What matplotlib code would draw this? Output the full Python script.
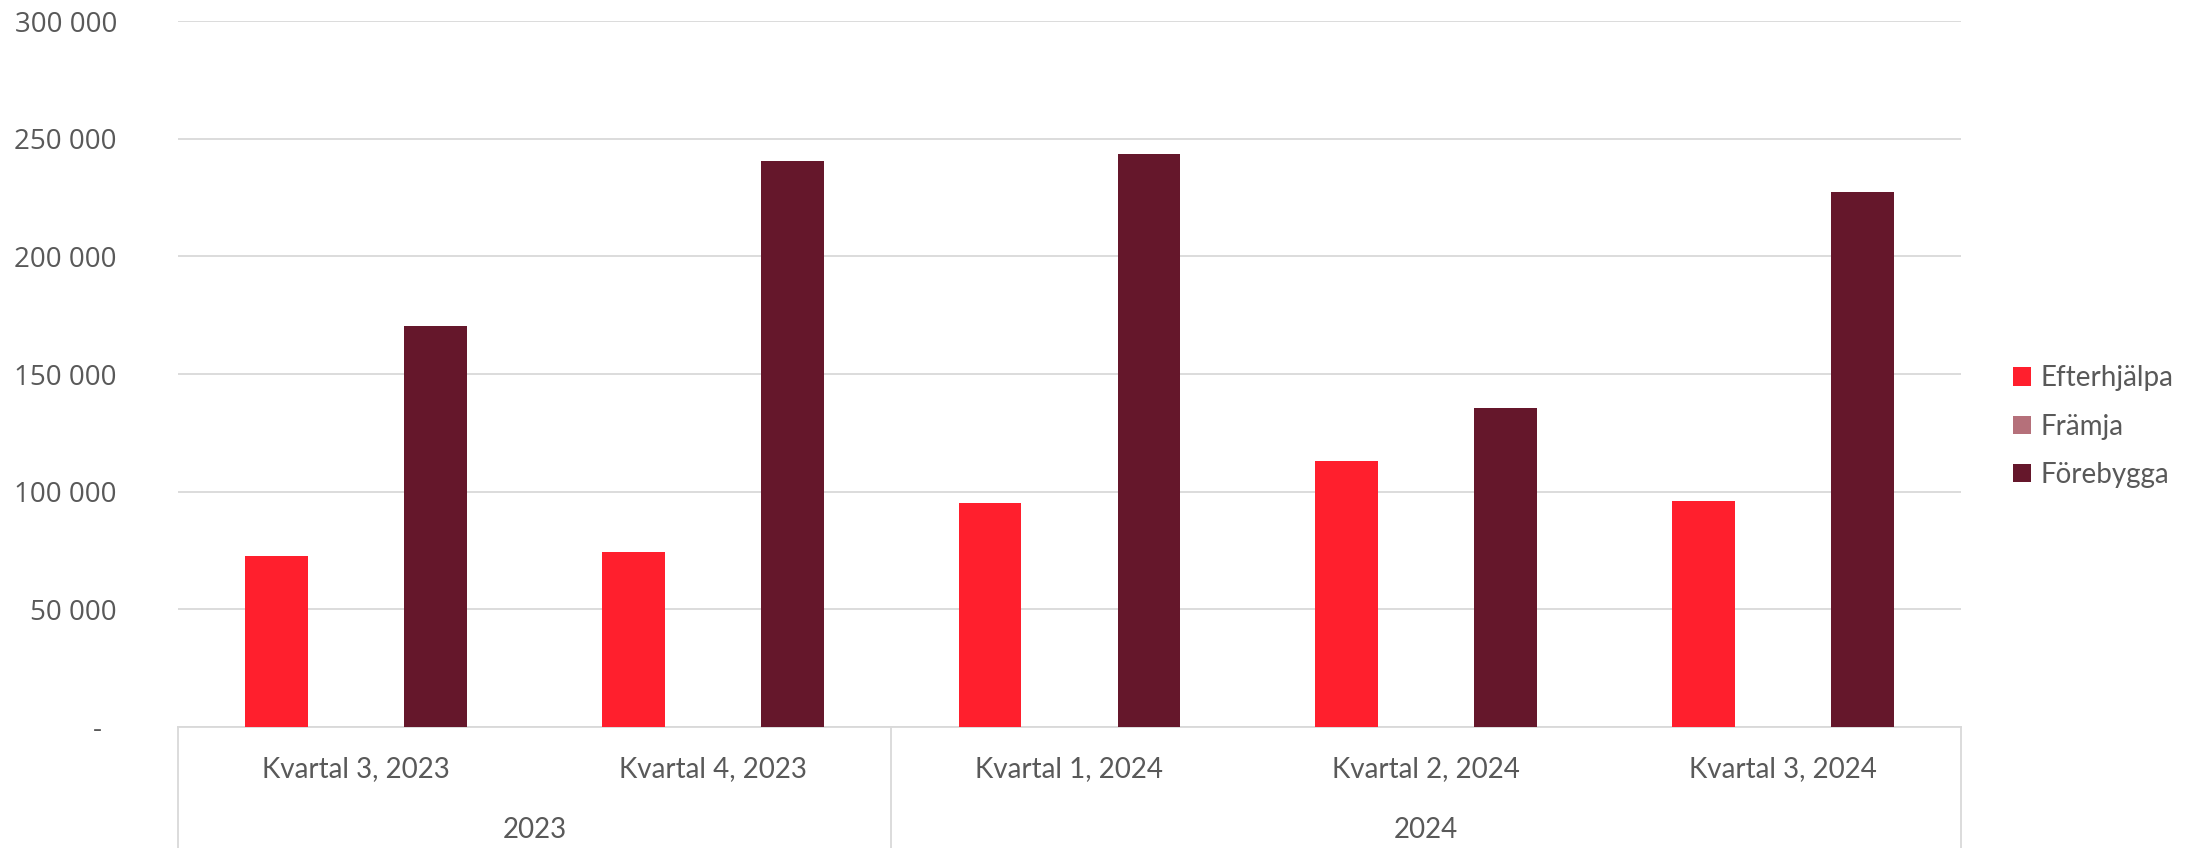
import numpy as np
import matplotlib.pyplot as plt
import matplotlib.transforms as mtransforms
from matplotlib.patches import Patch

# Data
quarters = ["Kvartal 3, 2023", "Kvartal 4, 2023", "Kvartal 1, 2024", "Kvartal 2, 2024", "Kvartal 3, 2024"]
years = ["2023", "2024"]
year_spans = [(0, 1), (2, 4)]
series_names = ["Efterhjälpa", "Främja", "Förebygga"]
efterhjalpa = [72500, 74300, 95000, 112900, 96200]
framja = [0, 0, 0, 0, 0]
forebygga = [170500, 240600, 243500, 135400, 227500]
y_ticks = [0, 50000, 100000, 150000, 200000, 250000, 300000]

colors = ["#FF1F2D", "#B5707A", "#65172B"]
text_color = "#595959"
grid_color = "#D9D9D9"

fig = plt.figure(figsize=(21.92, 8.48), dpi=100)
ax = fig.add_axes([0.0812, 0.1427, 0.8134, 0.8325])

x = np.arange(len(quarters))
step = 0.223
width = 0.176
for i, (vals, col) in enumerate(zip([efterhjalpa, framja, forebygga], colors)):
    ax.bar(x + (i - 1) * step, vals, width=width, color=col, edgecolor="none", zorder=3)

ax.set_xlim(-0.5, len(quarters) - 0.5)
ax.set_ylim(0, 300000)
ax.set_yticks(y_ticks)
ax.set_yticklabels(["-  "] + [f"{v:,}".replace(",", " ") for v in y_ticks[1:]])
for t in ax.get_yticklabels():
    t.set_fontfamily("Open Sans")
    t.set_fontsize(20)
    t.set_color(text_color)
ax.tick_params(axis="y", length=0, pad=44)
ax.set_xticks([])
ax.grid(axis="y", color=grid_color, linewidth=1.3, zorder=0)
for s in ["top", "right", "left"]:
    ax.spines[s].set_visible(False)
ax.spines["bottom"].set_color(grid_color)
ax.spines["bottom"].set_linewidth(1.3)

# Two-level category axis
trans = mtransforms.blended_transform_factory(ax.transData, ax.transAxes)
for xi, q in zip(x, quarters):
    ax.text(xi, -0.0595, q, transform=trans, ha="center", va="center",
            fontsize=20, color=text_color, family="Lato")
for (a, b), yr in zip(year_spans, years):
    ax.text((a + b) / 2, -0.146, yr, transform=trans, ha="center", va="center",
            fontsize=20, color=text_color, family="Lato")
for bx in [-0.5, 1.5, 4.5]:
    ax.plot([bx, bx], [0, -0.175], transform=trans, color=grid_color,
            linewidth=1.3, clip_on=False)

handles = [Patch(facecolor=c, edgecolor="none") for c in colors]
leg = fig.legend(handles, series_names, loc="center left", bbox_to_anchor=(0.912, 0.497),
                 frameon=False, handlelength=0.65, handleheight=0.65,
                 handletextpad=0.35, labelspacing=0.8, borderpad=0,
                 prop={"family": "Lato", "size": 20})
for t in leg.get_texts():
    t.set_color(text_color)

fig.savefig("out.png", dpi=100)
